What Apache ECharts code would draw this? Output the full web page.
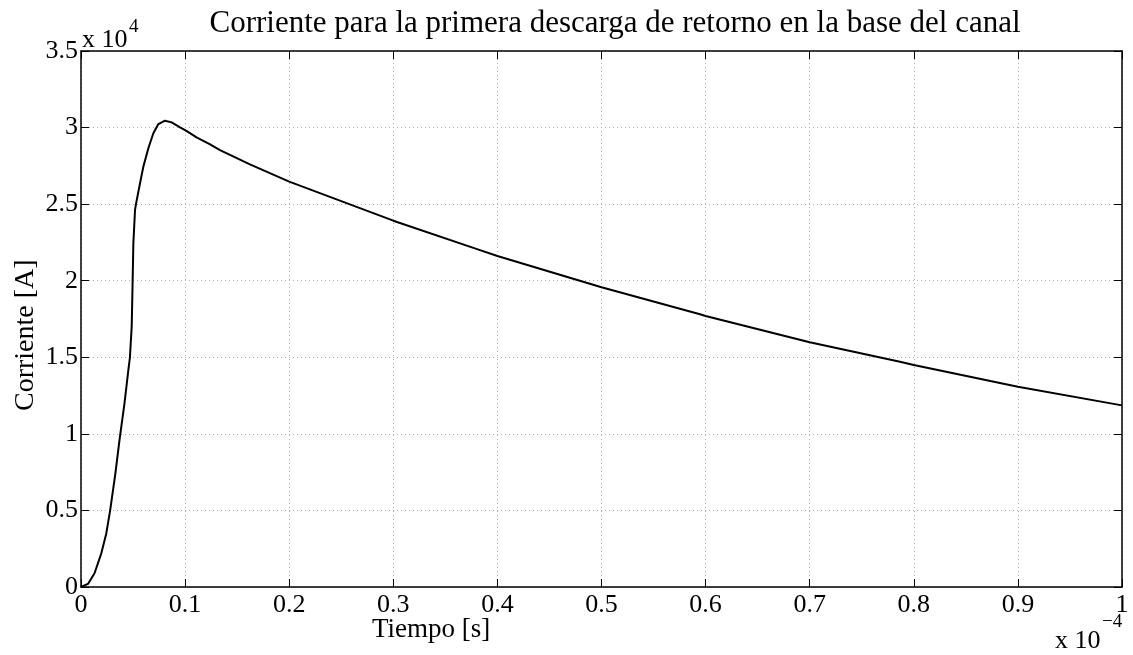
<!DOCTYPE html>
<html>
<head>
<meta charset="utf-8">
<script src="https://cdn.jsdelivr.net/npm/echarts@6/dist/echarts.min.js"></script>
<style>html,body{margin:0;padding:0;background:#fff}#c{width:1133px;height:655px}</style>
</head>
<body>
<div id="c"></div>
<script>
// time in units of 1e-4 s
const timeVals = [0, 0.0067, 0.013, 0.0195, 0.0243, 0.028, 0.033, 0.037, 0.0418, 0.0455, 0.047, 0.0487, 0.0496, 0.0503, 0.0519, 0.0528, 0.0567, 0.0599, 0.0647, 0.0695, 0.0743, 0.0807, 0.0871, 0.0951, 0.1009, 0.111, 0.124, 0.1335, 0.1623, 0.2, 0.3, 0.3833, 0.4, 0.5, 0.5946, 0.6, 0.7, 0.7867, 0.8, 0.9, 1.0];
// current in units of 1e4 A
const currentVals = [0, 0.02, 0.09, 0.22, 0.35, 0.5, 0.74, 0.96, 1.2, 1.417, 1.5, 1.70, 2.0, 2.244, 2.462, 2.5, 2.636, 2.745, 2.865, 2.963, 3.023, 3.045, 3.034, 3.002, 2.98, 2.936, 2.89, 2.853, 2.76, 2.647, 2.392, 2.20, 2.161, 1.957, 1.781, 1.77, 1.598, 1.471, 1.449, 1.308, 1.186];
const xTicks = ['0','0.1','0.2','0.3','0.4','0.5','0.6','0.7','0.8','0.9','1'];
const yTicks = ['0','0.5','1','1.5','2','2.5','3','3.5'];
const titleText = 'Corriente para la primera descarga de retorno en la base del canal';
const xLabel = 'Tiempo [s]';
const yLabel = 'Corriente [A]';

const FONT = '"Liberation Serif", "DejaVu Serif", serif';
const chart = echarts.init(document.getElementById('c'), null, {renderer: 'canvas'});
const data = timeVals.map((t, i) => [t, currentVals[i]]);
const gridLine = {show: true, lineStyle: {color: '#b0b0b0', type: [1, 3], width: 1}};
const axisLine = {show: true, onZero: false, lineStyle: {color: '#000', width: 1.5}};
const tick = {show: true, inside: true, length: 8, lineStyle: {color: '#000', width: 1}};
chart.setOption({
  animation: false,
  backgroundColor: '#fff',
  title: {
    text: titleText, left: 610, top: 3, textAlign: 'center',
    textStyle: {fontFamily: FONT, fontWeight: 'normal', fontSize: 31, color: '#000'}
  },
  grid: {left: 81, right: 11, top: 51, bottom: 68, containLabel: false},
  xAxis: [{
    type: 'value', min: 0, max: 1, interval: 0.1, position: 'bottom',
    axisLine, axisTick: tick, splitLine: gridLine,
    axisLabel: {margin: 5, fontFamily: FONT, fontSize: 26, color: '#000',
      formatter: (v) => xTicks[Math.round(v * 10)]}
  }, {
    type: 'value', min: 0, max: 1, interval: 0.1, position: 'top',
    axisLine, axisTick: tick, splitLine: {show: false}, axisLabel: {show: false}
  }],
  yAxis: [{
    type: 'value', min: 0, max: 3.5, interval: 0.5, position: 'left',
    axisLine, axisTick: tick, splitLine: gridLine,
    axisLabel: {margin: 3, fontFamily: FONT, fontSize: 26, color: '#000',
      formatter: (v) => yTicks[Math.round(v * 2)]}
  }, {
    type: 'value', min: 0, max: 3.5, interval: 0.5, position: 'right',
    axisLine, axisTick: tick, splitLine: {show: false}, axisLabel: {show: false}
  }],
  graphic: [
    {type: 'text', left: 372, top: 616, style: {text: xLabel, font: '27px ' + FONT, fill: '#000'}},
    {type: 'text', x: 12, y: 411, rotation: Math.PI / 2, style: {text: yLabel, font: '28px ' + FONT, fill: '#000', textAlign: 'left', textVerticalAlign: 'top'}},
    {type: 'text', left: 82, top: 27, style: {text: 'x 10', font: '26px ' + FONT, fill: '#000'}},
    {type: 'text', left: 129, top: 18, style: {text: '4', font: '19px ' + FONT, fill: '#000'}},
    {type: 'text', left: 1055, top: 628, style: {text: 'x 10', font: '26px ' + FONT, fill: '#000'}},
    {type: 'text', left: 1102, top: 613, style: {text: '\u22124', font: '19px ' + FONT, fill: '#000'}}
  ],
  series: [{
    type: 'line', data, showSymbol: false, smooth: false,
    lineStyle: {color: '#000', width: 2}, xAxisIndex: 0, yAxisIndex: 0
  }]
});
</script>
</body>
</html>
